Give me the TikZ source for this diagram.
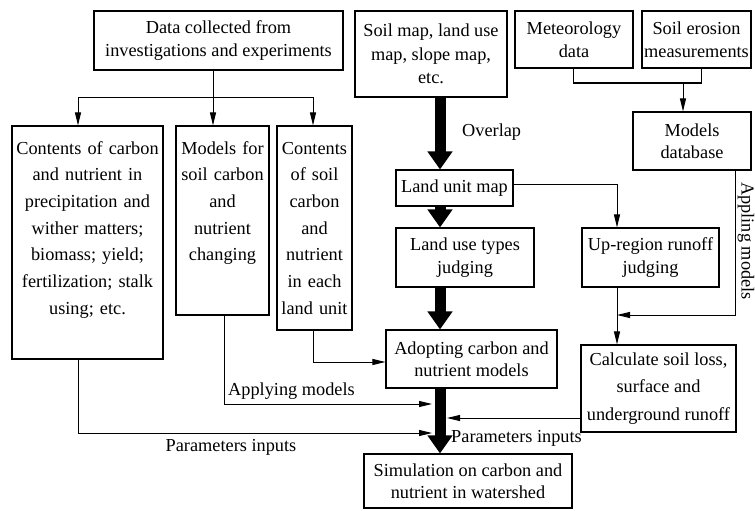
\documentclass[tikz,border=0pt]{standalone}
\usepackage{fontspec}
\setmainfont{Liberation Serif}
\newfontfamily\figfont{Liberation Serif}
\usetikzlibrary{arrows.meta}

\begin{document}
\begin{tikzpicture}[x=1pt,y=-1pt]
  \useasboundingbox (0,0) rectangle (755,511);

	 \tikzstyle{box}=[draw,line width=1.1pt,inner sep=0pt,align=center,font=\figfont\fontsize{18.3}{22.5}\selectfont]
	 \tikzstyle{tallbox}=[box,font=\figfont\fontsize{18.3}{26.7}\selectfont,text height=28pt]
	 \tikzstyle{note}=[inner sep=0pt,font=\figfont\fontsize{18.3}{22}\selectfont]
	 \tikzstyle{line}=[draw,line width=1pt]
	 \tikzstyle{arr}=[line,-{Triangle[length=13pt,width=6pt]}]
	 \tikzstyle{bigarrow}=[draw,line width=11pt,-{Triangle[length=18pt,width=24pt]}]
	 \node[box,minimum width=249pt,minimum height=59pt] (data) at (218.5,40.5) {Data collected from\\investigations and experiments};
	 \node[box,minimum width=152pt,minimum height=86pt,font=\figfont\fontsize{18.3}{23.5}\selectfont] (maps) at (431,54) {Soil map, land use\\map, slope map,\\etc.};
	 \node[box,minimum width=118pt,minimum height=57pt] (meteo) at (574,39.5) {Meteorology\\data};
	 \node[box,minimum width=109pt,minimum height=57pt] (erosion) at (696.5,39.5) {Soil erosion\\measurements};
	 \node[tallbox,text width=151pt,text depth=205pt] (precip) at (87.5,242.5) {Contents of carbon\\and nutrient in\\precipitation and\\wither matters;\\biomass; yield;\\fertilization; stalk\\using; etc.};
	 \node[tallbox,text width=93pt,text depth=161pt] (cmodels) at (222.5,220.5) {Models for\\soil carbon\\and\\nutrient\\changing};
	 \node[tallbox,text width=75pt,text depth=176pt] (soilc) at (314.5,228) {Contents\\of soil\\carbon\\and\\nutrient\\in each\\land unit};
	 \node[box,minimum width=118pt,minimum height=58pt] (mdb) at (692,141) {Models\\database};
	 \node[box,minimum width=117pt,minimum height=36pt] (unit) at (454.5,188) {Land unit map};
	 \node[box,minimum width=138pt,minimum height=59pt] (landuse) at (465,257.5) {Land use types\\judging};
	 \node[box,minimum width=137pt,minimum height=59pt] (uprun) at (650.5,257.5) {Up-region runoff\\judging};
	 \node[box,minimum width=171pt,minimum height=58pt] (adopt) at (471.5,359) {Adopting carbon and\\nutrient models};
	 \node[box,minimum width=155pt,minimum height=87pt,font=\figfont\fontsize{18.3}{27.5}\selectfont] (calc) at (658.5,388.5) {Calculate soil loss,\\surface and\\underground runoff};
	 \node[box,minimum width=208pt,minimum height=54pt] (sim) at (468,481) {Simulation on carbon and\\nutrient in watershed};

	 \coordinate (bus) at (213,97);
	 \coordinate (busl) at (78,97);
	 \coordinate (busr) at (313,97);
	 \coordinate (spine) at (440,0);
	 \coordinate (mleft) at (573,83);
	 \coordinate (mright) at (701,83);
	 \coordinate (mjoin) at (683,83);
	 \coordinate (appl) at (735,315);
	 \coordinate (appr) at (617,315);
	 \coordinate (unitr) at (617,184);
	 \coordinate (soilcj) at (313,362);
	 \coordinate (modj) at (224,404);
	 \coordinate (modend) at (432,404);
	 \coordinate (parj) at (78,433);
	 \coordinate (parend) at (432,433);
	 \coordinate (calcj) at (581,418);
	 \coordinate (calcend) at (447,418);

	 \draw[line] (data.south -| bus) -- (bus);
	 \draw[line] (busl) -- (busr);
	 \draw[arr] (busl) -- (busl |- precip.north);
	 \draw[arr] (bus) -- (bus |- cmodels.north);
	 \draw[arr] (busr) -- (busr |- soilc.north);
	 \draw[bigarrow] (maps.south -| spine) -- (unit.north -| spine);
	 \draw[bigarrow] (unit.south -| spine) -- (landuse.north -| spine);
	 \draw[bigarrow] (landuse.south -| spine) -- (adopt.north -| spine);
	 \draw[bigarrow] (adopt.south -| spine) -- (sim.north -| spine);
	 \draw[line] (meteo.south -| mleft) -- (mleft) -- (mright) -- (erosion.south -| mright);
	 \draw[arr] (mjoin) -- (mdb.north -| mjoin);
	 \draw[arr] (unit.east |- unitr) -- (unitr) -- (uprun.north -| unitr);
	 \draw[arr] (mdb.south -| appl) -- (appl) -- (appr);
	 \draw[arr] (uprun.south -| appr) -- (calc.north -| appr);
	 \draw[arr] (soilc.south -| soilcj) -- (soilcj) -- (adopt.west |- soilcj);
	 \draw[arr] (cmodels.south -| modj) -- (modj) -- (modend);
	 \draw[arr] (precip.south -| parj) -- (parj) -- (parend);
	 \draw[arr] (calc.west |- calcj) -- (calcend);

	 \node[note,anchor=west] (overlap) at (462,132) {Overlap};
	 \node[note,anchor=west] (applying) at (228,391) {Applying models};
	 \node[note] (params) at (231,447) {Parameters inputs};
	 \node[note,anchor=west] (params2) at (451,438) {Parameters inputs};
	 \node[note,rotate=-90] (appling) at (746,241) {Appling models};

\end{tikzpicture}
\end{document}
